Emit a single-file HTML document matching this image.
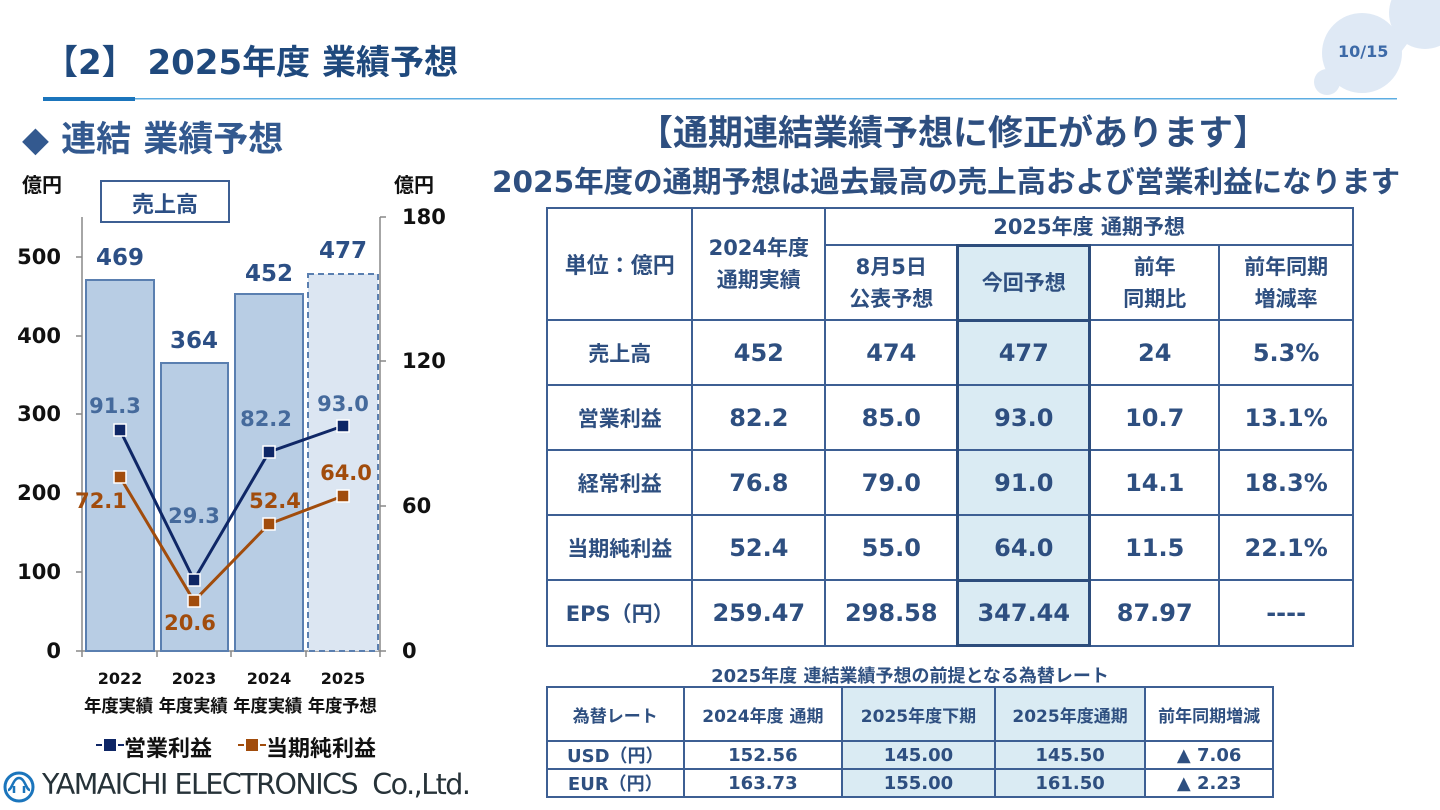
<!DOCTYPE html>
<html><head><meta charset="utf-8"><style>
*{margin:0;padding:0;box-sizing:border-box}
body{width:1440px;height:810px;background:#fff;position:relative;overflow:hidden;font-family:"DejaVu Sans","Noto Sans CJK JP",sans-serif;font-weight:bold}
.a{position:absolute;white-space:nowrap}
table{border-collapse:collapse;position:absolute;color:#2e4f80}
td{border:2px solid #3d5f93;text-align:center;vertical-align:middle}
.hl{background:#daebf3}
</style></head><body>
<svg class="a" style="left:0;top:0" width="1440" height="810">
<circle cx="1425" cy="13" r="36" fill="#dfe9f5"/><circle cx="1362" cy="53" r="40" fill="#dfe9f5"/><circle cx="1327" cy="82" r="13" fill="#dfe9f5"/><path d="M1380 25 L1410 40 L1395 60 Z" fill="#dfe9f5"/>
<rect x="43" y="97" width="92" height="4" fill="#1b75bc"/><rect x="135" y="98" width="1262" height="1.5" fill="#5dade2"/>
<g stroke="#888" stroke-width="1.5" fill="none"><path d="M82 217V651M76 257h6M76 336h6M76 414h6M76 493h6M76 572h6M76 651h6M82 651H380M82 651v6M157 651v6M231 651v6M306 651v6M380 651v6M380 217V651M380 217h6M380 361h6M380 506h6M380 651h6"/></g>
<g fill="#b8cde4" stroke="#5a7fb0" stroke-width="2"><rect x="86" y="280" width="68" height="371"/><rect x="161" y="363" width="67" height="288"/><rect x="235" y="294" width="68" height="357"/></g>
<rect x="308" y="274" width="70" height="377" fill="#dce6f2" stroke="#5a7fb0" stroke-width="2" stroke-dasharray="6,4"/>
<polyline points="120,430 194,580 269,452 343,426" fill="none" stroke="#0f2766" stroke-width="3"/>
<polyline points="120,477 194,601 269,524 343,496" fill="none" stroke="#a14c0c" stroke-width="3"/>
<g fill="#0f2766" stroke="#fff" stroke-width="1.5"><rect x="114" y="424" width="12" height="12"/><rect x="188" y="574" width="12" height="12"/><rect x="263" y="446" width="12" height="12"/><rect x="337" y="420" width="12" height="12"/></g>
<g fill="#a14c0c" stroke="#fff" stroke-width="1.5"><rect x="114" y="471" width="12" height="12"/><rect x="188" y="595" width="12" height="12"/><rect x="263" y="518" width="12" height="12"/><rect x="337" y="490" width="12" height="12"/></g>
<g font-family="DejaVu Sans,sans-serif" font-weight="bold" font-size="21" fill="#111" text-anchor="end"><text x="61" y="264">500</text><text x="61" y="343">400</text><text x="61" y="421">300</text><text x="61" y="500">200</text><text x="61" y="579">100</text><text x="61" y="658">0</text></g>
<g font-family="DejaVu Sans,sans-serif" font-weight="bold" font-size="21" fill="#111" text-anchor="start"><text x="402" y="224">180</text><text x="402" y="368">120</text><text x="402" y="513">60</text><text x="402" y="658">0</text></g>
<g font-family="DejaVu Sans,sans-serif" font-weight="bold" font-size="23" fill="#2c4f85" text-anchor="middle"><text x="120" y="265">469</text><text x="194" y="348">364</text><text x="269" y="281">452</text><text x="343" y="258">477</text></g>
<g font-family="DejaVu Sans,sans-serif" font-weight="bold" font-size="21" fill="#456a9c" text-anchor="middle"><text x="115" y="413">91.3</text><text x="194" y="523">29.3</text><text x="266" y="426">82.2</text><text x="343" y="411">93.0</text></g>
<g font-family="DejaVu Sans,sans-serif" font-weight="bold" font-size="21" fill="#a14c0c" text-anchor="middle"><text x="101" y="508">72.1</text><text x="190" y="630">20.6</text><text x="275" y="508">52.4</text><text x="346" y="480">64.0</text></g>
<g font-family="DejaVu Sans,sans-serif" font-weight="bold" font-size="16" fill="#111" text-anchor="middle"><text x="120" y="684">2022</text><text x="194" y="684">2023</text><text x="269" y="684">2024</text><text x="343" y="684">2025</text></g>
<rect x="101" y="181" width="128" height="41" fill="#fff" stroke="#3d5f93" stroke-width="2"/>
<path d="M96 745h6M118 745h6" stroke="#0f2766" stroke-width="2"/>
<rect x="104" y="739" width="12" height="12" fill="#0f2766"/><rect x="246" y="739" width="12" height="12" fill="#a14c0c"/>
<path d="M238 745h6M260 745h6" stroke="#a14c0c" stroke-width="2"/>
<circle cx="19" cy="787" r="14" fill="none" stroke="#1b75bc" stroke-width="3"/><path d="M8 790c4 0 5-12 11-12s7 12 11 12M14 786v7M24 786v7" fill="none" stroke="#1b75bc" stroke-width="2.5"/>
</svg>
<div class="a" style="left:44px;top:35px;font-size:34px;color:#1f497d">【2】 2025年度 業績予想</div>
<div class="a" style="left:1338px;top:42px;font-size:16px;color:#3d6aa8">10/15</div>
<div class="a" style="left:22px;top:111px;font-size:35px;color:#33598f">◆ 連結 業績予想</div>
<div class="a" style="left:22px;top:169px;font-size:20px;color:#111">億円</div>
<div class="a" style="left:394px;top:169px;font-size:20px;color:#111">億円</div>
<div class="a" style="left:101px;top:187px;width:128px;text-align:center;font-size:22px;color:#2c4f85">売上高</div>
<div class="a" style="left:84px;top:693px;font-size:17.5px;color:#111;letter-spacing:-0.3px">年度実績 年度実績 年度実績 年度予想</div>
<div class="a" style="left:124px;top:731px;font-size:22px;color:#111">営業利益</div>
<div class="a" style="left:266px;top:731px;font-size:22px;color:#111">当期純利益</div>
<div class="a" style="left:42px;top:768px;font-family:'DejaVu Sans',sans-serif;font-weight:normal;font-size:28.5px;color:#263238;letter-spacing:-1.5px">YAMAICHI ELECTRONICS&nbsp; Co.,Ltd.</div>
<div class="a" style="left:638px;top:105px;font-size:35px;color:#2e4f80">【通期連結業績予想に修正があります】</div>
<div class="a" style="left:492px;top:159px;font-size:29.5px;color:#2e4f80">2025年度の通期予想は過去最高の売上高および営業利益になります</div>
<table style="left:546px;top:207px;width:808px;height:440px">
<colgroup><col style="width:146px"><col style="width:133px"><col style="width:133px"><col style="width:132px"><col style="width:130px"><col style="width:134px"></colgroup>
<tr style="height:37px;font-size:21px"><td rowspan="2" style="font-size:22px">単位：億円</td><td rowspan="2" style="line-height:32px">2024年度<br>通期実績</td><td colspan="4">2025年度 通期予想</td></tr>
<tr style="height:75px;font-size:21px;line-height:32px"><td>8月5日<br>公表予想</td><td class="hl" style="border:3px solid #2d4d7c">今回予想</td><td>前年<br>同期比</td><td>前年同期<br>増減率</td></tr>
<tr style="font-size:24px"><td style="font-size:21px">売上高</td><td>452</td><td>474</td><td class="hl" style="border-left:3px solid #2d4d7c;border-right:3px solid #2d4d7c">477</td><td>24</td><td>5.3%</td></tr>
<tr style="font-size:24px"><td style="font-size:21px">営業利益</td><td>82.2</td><td>85.0</td><td class="hl" style="border-left:3px solid #2d4d7c;border-right:3px solid #2d4d7c">93.0</td><td>10.7</td><td>13.1%</td></tr>
<tr style="font-size:24px"><td style="font-size:21px">経常利益</td><td>76.8</td><td>79.0</td><td class="hl" style="border-left:3px solid #2d4d7c;border-right:3px solid #2d4d7c">91.0</td><td>14.1</td><td>18.3%</td></tr>
<tr style="font-size:24px"><td style="font-size:21px">当期純利益</td><td>52.4</td><td>55.0</td><td class="hl" style="border-left:3px solid #2d4d7c;border-right:3px solid #2d4d7c">64.0</td><td>11.5</td><td>22.1%</td></tr>
<tr style="font-size:24px"><td style="font-size:21px">EPS（円）</td><td>259.47</td><td>298.58</td><td class="hl" style="border:3px solid #2d4d7c">347.44</td><td>87.97</td><td>----</td></tr>
</table>
<div class="a" style="left:546px;top:662px;width:728px;text-align:center;font-size:18px;color:#2e4f80">2025年度 連結業績予想の前提となる為替レート</div>
<table style="left:546px;top:686px;width:728px;height:109px;font-size:18px">
<colgroup><col style="width:137px"><col style="width:159px"><col style="width:153px"><col style="width:151px"><col style="width:128px"></colgroup>
<tr style="height:54px;font-size:17px"><td>為替レート</td><td>2024年度 通期</td><td class="hl">2025年度下期</td><td class="hl">2025年度通期</td><td>前年同期増減</td></tr>
<tr><td>USD（円）</td><td>152.56</td><td class="hl">145.00</td><td class="hl">145.50</td><td>▲ 7.06</td></tr>
<tr><td>EUR（円）</td><td>163.73</td><td class="hl">155.00</td><td class="hl">161.50</td><td>▲ 2.23</td></tr>
</table>
</body></html>
